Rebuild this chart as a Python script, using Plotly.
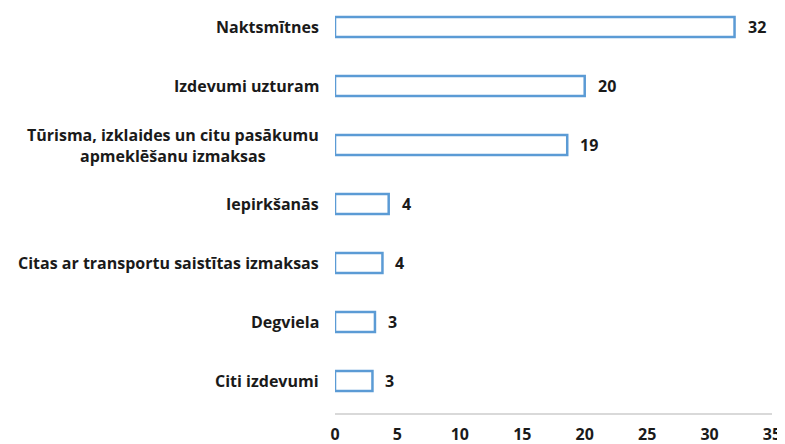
import plotly.graph_objects as go

categories = [
    "Naktsmītnes",
    "Izdevumi uzturam",
    "Tūrisma, izklaides un citu pasākumu<br>apmeklēšanu izmaksas",
    "Iepirkšanās",
    "Citas ar transportu saistītas izmaksas",
    "Degviela",
    "Citi izdevumi",
]
values = [32.0, 20.0, 18.6, 4.3, 3.8, 3.2, 3.0]
value_labels = ["32", "20", "19", "4", "4", "3", "3"]
x_ticks = [0, 5, 10, 15, 20, 25, 30, 35]

FONT = "Open Sans"
TXT = "#1a1a1a"

fig = go.Figure()
fig.add_trace(go.Bar(
    y=categories, x=values, orientation="h",
    marker=dict(color="white", line=dict(color="#5B9BD5", width=2.5)),
    width=0.34, hoverinfo="skip",
))

for c, v, t in zip(categories, values, value_labels):
    fig.add_annotation(x=v, y=c, text=t, showarrow=False, xanchor="left",
                       xshift=11, font=dict(family=FONT, size=16, color=TXT, weight="bold"))
    fig.add_annotation(x=0, xref="paper", y=c, text=c, showarrow=False, xanchor="right",
                       align="center", xshift=-14,
                       font=dict(family=FONT, size=16, color=TXT, weight="bold"))

# page body has an 8px default margin, so the figure is sized to fit the window
fig.update_layout(
    width=777, height=436,
    margin=dict(l=327, r=13, t=0, b=31),
    plot_bgcolor="white", paper_bgcolor="white",
    showlegend=False,
    font=dict(family=FONT, size=16, color=TXT, weight="bold"),
    xaxis=dict(range=[0, 35], tickvals=x_ticks, showgrid=False, zeroline=False,
               showline=True, linecolor="#D9D9D9", linewidth=1.5, ticks="",
               tickfont=dict(family=FONT, size=16, color=TXT, weight="bold"),
               ticklabelstandoff=6, automargin=False),
    yaxis=dict(categoryorder="array", categoryarray=categories,
               range=[6.542, -0.322],
               showticklabels=False, showgrid=False, zeroline=False, showline=False,
               ticks="", automargin=False),
)

fig.write_html("out.html")
